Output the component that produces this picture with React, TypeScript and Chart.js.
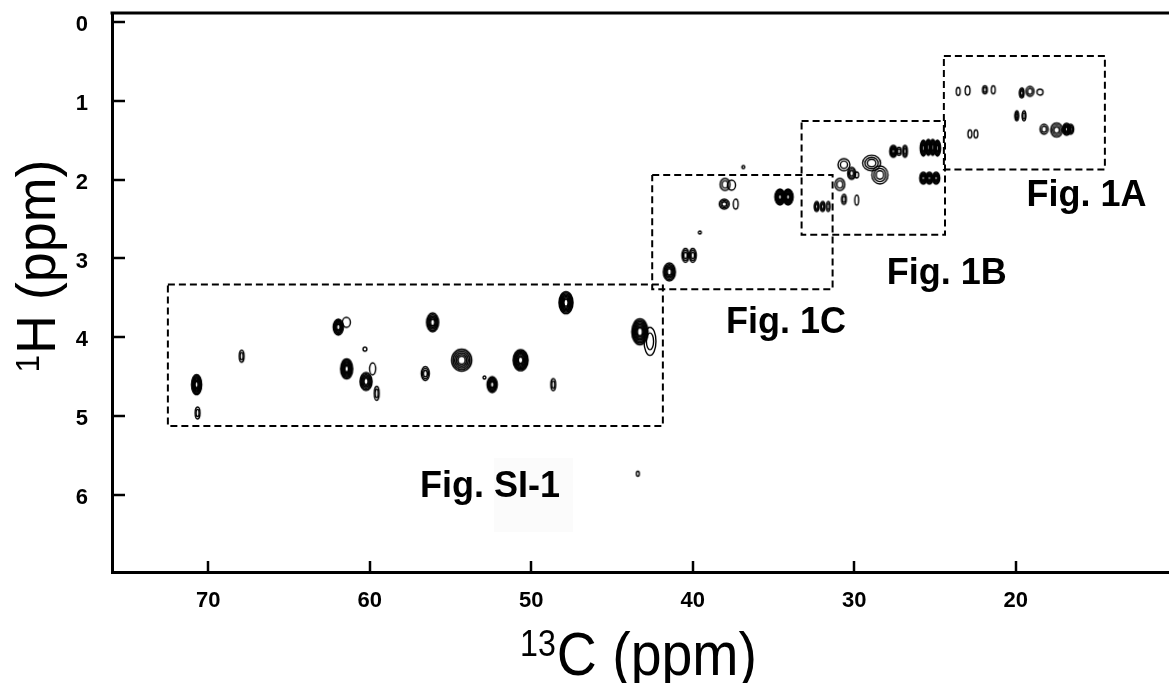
import React, { useEffect, useRef } from 'react';
import { Chart, registerables } from 'chart.js';

Chart.register(...registerables);

// Axis ranges (ppm) and tick labels
const xTicks = [70, 60, 50, 40, 30, 20];
const yTicks = [0, 1, 2, 3, 4, 5, 6];
const xMin = 10.51;
const xMax = 75.96;
const yMin = -0.114;
const yMax = 6.977;

// Cross peaks: 13C shift, 1H shift, half line widths (ppm), contour level count (intensity)
const peakC = [
  70.72, 70.66, 67.93, 61.95, 61.45, 60.3, 61.43, 59.82, 60.23, 59.57, 56.11, 56.56, 54.31, 52.42, 52.9, 50.66, 48.64, 47.85, 43.27, 42.65, 43.4,
  41.45, 40.45, 40.0, 39.56, 38.0, 37.6, 38.05, 37.34, 34.6, 34.1, 32.33, 31.96, 31.61, 36.87,
  30.64, 30.16, 29.85, 30.89, 30.64, 29.85, 28.92, 28.41, 27.58, 27.23, 26.86, 25.72, 25.41, 25.14, 24.85, 25.72, 25.35, 24.93,
  23.56, 22.98, 21.91, 21.39, 19.63, 19.12, 18.5, 19.94, 19.49, 22.84, 22.47, 18.25, 17.47, 16.85, 16.6,
];
const peakH = [
  4.6, 4.96, 4.24, 3.87, 3.81, 4.15, 4.4, 4.4, 4.56, 4.71, 3.81, 4.46, 4.29, 4.6, 4.51, 4.29, 4.6, 3.56, 3.93, 4.05, 5.73,
  3.17, 2.96, 2.96, 2.67, 2.06, 2.07, 2.31, 2.31, 2.22, 2.22, 2.34, 2.34, 2.34, 1.84,
  1.81, 1.92, 1.94, 2.06, 2.25, 2.26, 1.79, 1.94, 1.64, 1.64, 1.64, 1.6, 1.59, 1.59, 1.6, 1.98, 1.98, 1.98,
  0.88, 0.87, 0.86, 0.86, 0.9, 0.88, 0.89, 1.19, 1.19, 1.42, 1.42, 1.36, 1.37, 1.36, 1.36,
];
const peakWC = [
  0.31, 0.15, 0.15, 0.31, 0.25, 0.12, 0.37, 0.19, 0.37, 0.15, 0.37, 0.25, 0.62, 0.31, 0.09, 0.46, 0.15, 0.43, 0.5, 0.37, 0.09,
  0.37, 0.22, 0.22, 0.09, 0.31, 0.25, 0.31, 0.15, 0.31, 0.31, 0.15, 0.15, 0.12, 0.09,
  0.37, 0.25, 0.12, 0.31, 0.15, 0.12, 0.56, 0.5, 0.22, 0.15, 0.15, 0.19, 0.19, 0.19, 0.19, 0.22, 0.22, 0.22,
  0.12, 0.15, 0.15, 0.12, 0.15, 0.25, 0.19, 0.12, 0.12, 0.12, 0.12, 0.25, 0.37, 0.25, 0.19,
];
const peakWH = [
  0.127, 0.076, 0.076, 0.1, 0.063, 0.025, 0.127, 0.076, 0.114, 0.089, 0.12, 0.089, 0.14, 0.1, 0.019, 0.133, 0.076, 0.14, 0.165, 0.178, 0.032,
  0.114, 0.089, 0.089, 0.019, 0.076, 0.063, 0.063, 0.063, 0.1, 0.1, 0.063, 0.063, 0.063, 0.019,
  0.076, 0.076, 0.038, 0.076, 0.063, 0.063, 0.1, 0.114, 0.076, 0.051, 0.076, 0.1, 0.1, 0.1, 0.1, 0.076, 0.076, 0.076,
  0.051, 0.057, 0.051, 0.051, 0.063, 0.063, 0.038, 0.063, 0.063, 0.051, 0.051, 0.063, 0.089, 0.076, 0.063,
];
const peakLevel = [
  5, 2, 2, 4, 1, 1, 5, 1, 4, 2, 4, 3, 4, 4, 1, 5, 2, 5, 5, 2, 1,
  4, 3, 3, 1, 2, 1, 3, 1, 5, 5, 3, 3, 2, 1,
  2, 3, 1, 2, 2, 1, 3, 3, 4, 2, 3, 4, 4, 4, 4, 4, 4, 4,
  1, 1, 2, 1, 3, 2, 1, 3, 2, 1, 1, 2, 3, 4, 3,
];

// Dashed region boxes and their labels
const boxNames = ['Fig. SI-1', 'Fig. 1C', 'Fig. 1B', 'Fig. 1A'];
const boxCLeft = [72.5, 42.51, 33.26, 24.45];
const boxCRight = [41.85, 31.34, 24.38, 14.48];
const boxHTop = [3.33, 1.94, 1.256, 0.43];
const boxHBottom = [5.125, 3.39, 2.7, 1.87];
const labelC = [56.89, 37.94, 27.98, 19.33];
const labelH = [6.026, 3.945, 3.324, 2.334];

const FONT = '"Liberation Sans", Arial, sans-serif';

function makePeakCanvas(rx: number, ry: number, level: number): HTMLCanvasElement {
  const rings = [1, 2, 3, 5, 7][Math.max(0, Math.min(4, level - 1))];
  const pad = 2;
  const c = document.createElement('canvas');
  c.width = Math.ceil(2 * rx + 2 * pad);
  c.height = Math.ceil(2 * ry + 2 * pad);
  const g = c.getContext('2d')!;
  g.strokeStyle = '#000';
  g.lineWidth = level >= 4 ? 1.6 : 1.4;
  for (let k = 0; k < rings; k++) {
    const f = 1 - k * (0.8 / rings);
    g.beginPath();
    g.ellipse(c.width / 2, c.height / 2, Math.max(rx * f, 0.8), Math.max(ry * f, 0.8), 0, 0, Math.PI * 2);
    g.stroke();
  }
  return c;
}

function drawTitle(
  ctx: CanvasRenderingContext2D,
  sup: string,
  main: string,
  cx: number,
  cy: number,
  size: number,
  supSize: number,
  targetW: number,
  rotate: boolean
) {
  ctx.save();
  ctx.translate(cx, cy);
  if (rotate) ctx.rotate(-Math.PI / 2);
  ctx.font = `${supSize}px ${FONT}`;
  const w1 = ctx.measureText(sup).width;
  ctx.font = `${size}px ${FONT}`;
  const w2 = ctx.measureText(main).width;
  const total = w1 + w2 + 1;
  ctx.scale(targetW / total, 1);
  const start = -total / 2;
  ctx.fillStyle = '#000';
  ctx.textBaseline = 'alphabetic';
  ctx.textAlign = 'left';
  ctx.font = `${supSize}px ${FONT}`;
  ctx.fillText(sup, start, -0.716 * size + 0.716 * supSize);
  ctx.font = `${size}px ${FONT}`;
  ctx.fillText(main, start + w1 + 1, 0);
  ctx.restore();
}

const decorPlugin = {
  id: 'decor',
  afterDraw(chart: any) {
    const { ctx, chartArea: a, scales } = chart;
    const x = scales.x;
    const y = scales.y;
    ctx.save();
    ctx.strokeStyle = '#000';
    ctx.lineWidth = 3;
    ctx.beginPath();
    ctx.moveTo(a.left - 1.5, a.top);
    ctx.lineTo(a.right, a.top);
    ctx.stroke();
    ctx.lineWidth = 2.5;
    xTicks.forEach((v) => {
      const px = Math.round(x.getPixelForValue(v));
      ctx.beginPath();
      ctx.moveTo(px, a.bottom);
      ctx.lineTo(px, a.bottom - 11);
      ctx.stroke();
    });
    yTicks.forEach((v) => {
      const py = Math.round(y.getPixelForValue(v));
      ctx.beginPath();
      ctx.moveTo(a.left, py);
      ctx.lineTo(a.left + 13, py);
      ctx.stroke();
    });

    // region labels
    ctx.fillStyle = '#000';
    ctx.textBaseline = 'alphabetic';
    ctx.textAlign = 'left';
    ctx.font = `bold 36px ${FONT}`;
    boxNames.forEach((name, i) => {
      const lx = x.getPixelForValue(labelC[i]);
      const ly = y.getPixelForValue(labelH[i]);
      if (name.indexOf('SI') >= 0) {
        const parts = name.split(' ');
        const w0 = ctx.measureText(parts[0] + ' ').width;
        ctx.fillStyle = '#fbfbfb';
        ctx.fillRect(lx + w0, ly - 39, 79, 74);
        ctx.fillStyle = '#000';
        ctx.fillText(parts[0], lx, ly);
        ctx.fillText(parts[1], lx + w0, ly);
      } else {
        ctx.fillText(name, lx, ly);
      }
    });

    // axis titles
    drawTitle(ctx, '13', 'C (ppm)', (a.left + a.right) / 2 - 2, 675, 62, 36, 237, false);
    drawTitle(ctx, '1', 'H (ppm)', 55, 266, 56, 33, 213, true);
    ctx.restore();
  },
};

export default function App() {
  const ref = useRef<HTMLCanvasElement>(null);
  useEffect(() => {
    document.body.style.margin = '0';
    const cache: Record<string, HTMLCanvasElement> = {};
    const peakStyle = (c: any) => {
      if (c.type !== 'data') return 'circle';
      const i = c.dataIndex;
      const sx = c.chart.scales.x;
      const sy = c.chart.scales.y;
      const rx = Math.abs(sx.getPixelForValue(peakC[i] + peakWC[i]) - sx.getPixelForValue(peakC[i]));
      const ry = Math.abs(sy.getPixelForValue(peakH[i] + peakWH[i]) - sy.getPixelForValue(peakH[i]));
      const key = `${rx.toFixed(2)}_${ry.toFixed(2)}_${peakLevel[i]}`;
      if (!cache[key]) cache[key] = makePeakCanvas(rx, ry, peakLevel[i]);
      return cache[key];
    };

    const boxDatasets = boxNames.map((name, i) => ({
      label: name,
      data: [
        { x: boxCLeft[i], y: boxHTop[i] },
        { x: boxCRight[i], y: boxHTop[i] },
        { x: boxCRight[i], y: boxHBottom[i] },
        { x: boxCLeft[i], y: boxHBottom[i] },
        { x: boxCLeft[i], y: boxHTop[i] },
      ],
      showLine: true,
      borderColor: '#000',
      borderWidth: 2,
      borderDash: [7, 4],
      pointRadius: 0,
      fill: false,
      tension: 0,
    }));

    const chart = new Chart(ref.current!, {
      type: 'scatter',
      data: {
        datasets: [
          {
            label: 'peaks',
            data: peakC.map((c, i) => ({ x: c, y: peakH[i] })),
            pointStyle: peakStyle as any,
            pointRadius: 3,
            borderColor: '#000',
            backgroundColor: '#000',
          },
          ...boxDatasets,
        ] as any,
      },
      options: {
        responsive: false,
        animation: false,
        events: [],
        layout: { autoPadding: false, padding: { top: 13, right: 0, left: 0, bottom: 0 } },
        plugins: { legend: { display: false }, tooltip: { enabled: false } },
        scales: {
          x: {
            type: 'linear',
            position: 'bottom',
            min: xMin,
            max: xMax,
            reverse: true,
            grid: { display: false, drawTicks: false },
            border: { display: true, color: '#000', width: 3 },
            afterBuildTicks: (s: any) => {
              s.ticks = xTicks.map((v) => ({ value: v }));
            },
            afterFit: (s: any) => {
              s.height = 111;
              s.paddingLeft = 0;
              s.paddingRight = 0;
            },
            ticks: {
              color: '#000',
              padding: 16,
              maxRotation: 0,
              autoSkip: false,
              font: { family: FONT, size: 22, weight: 'bold' },
              callback: (v: any) => String(v),
            },
          },
          y: {
            type: 'linear',
            min: yMin,
            max: yMax,
            reverse: true,
            grid: { display: false, drawTicks: false },
            border: { display: true, color: '#000', width: 3 },
            afterBuildTicks: (s: any) => {
              s.ticks = yTicks.map((v) => ({ value: v }));
            },
            afterFit: (s: any) => {
              s.width = 112;
              s.paddingTop = 0;
              s.paddingBottom = 0;
            },
            ticks: {
              color: '#000',
              padding: 24,
              labelOffset: 3,
              autoSkip: false,
              font: { family: FONT, size: 22, weight: 'bold' },
              callback: (v: any) => String(v),
            },
          },
        },
      },
      plugins: [decorPlugin],
    });
    return () => chart.destroy();
  }, []);

  return (
    <div style={{ position: 'relative', width: 1169, height: 683, background: '#fff' }}>
      <canvas ref={ref} width={1169} height={683} style={{ display: 'block', width: 1169, height: 683 }} />
    </div>
  );
}
